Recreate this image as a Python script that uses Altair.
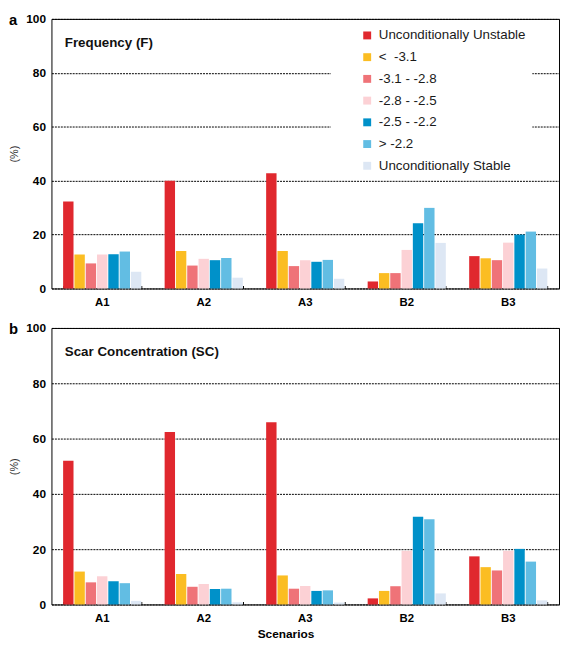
import altair as alt
import pandas as pd

FONT = "Liberation Sans"

scenarios = ["A1", "A2", "A3", "B2", "B3"]
classes = [
    "Unconditionally Unstable",
    "<\u00a0\u00a0-3.1",
    "-3.1 - -2.8",
    "-2.8 - -2.5",
    "-2.5 - -2.2",
    "> -2.2",
    "Unconditionally Stable",
]
colors = ["#e0282e", "#fbbd22", "#ef7378", "#fcd1d5", "#0091c9", "#62bde3", "#dde7f4"]

# Frequency (F), one list per class, values for A1, A2, A3, B2, B3
freq_uu = [32.3, 40.0, 42.7, 2.6, 12.0]
freq_lt31 = [12.6, 13.9, 13.9, 5.7, 11.2]
freq_31_28 = [9.3, 8.5, 8.3, 5.7, 10.5]
freq_28_25 = [12.6, 11.0, 10.5, 14.3, 17.0]
freq_25_22 = [12.7, 10.5, 9.9, 24.2, 20.0]
freq_gt22 = [13.7, 11.3, 10.6, 29.9, 21.1]
freq_us = [6.2, 4.0, 3.6, 16.9, 7.4]

# Scar Concentration (SC)
sc_uu = [52.0, 62.4, 65.9, 2.2, 17.4]
sc_lt31 = [11.9, 11.0, 10.5, 4.9, 13.5]
sc_31_28 = [8.0, 6.4, 5.7, 6.6, 12.3]
sc_28_25 = [10.2, 7.4, 6.7, 19.4, 19.4]
sc_25_22 = [8.4, 5.6, 4.9, 31.7, 20.1]
sc_gt22 = [7.7, 5.7, 5.1, 30.8, 15.5]
sc_us = [1.3, 0.8, 0.7, 4.0, 1.5]

freq_series = [freq_uu, freq_lt31, freq_31_28, freq_28_25, freq_25_22, freq_gt22, freq_us]
sc_series = [sc_uu, sc_lt31, sc_31_28, sc_28_25, sc_25_22, sc_gt22, sc_us]


def make_df(series):
    rows = []
    for cls, vals in zip(classes, series):
        for sc, v in zip(scenarios, vals):
            rows.append({"Scenario": sc, "Class": cls, "Value": v})
    return pd.DataFrame(rows)


W = 514


def panel(series, letter, title, show_legend, show_xtitle, H):
    df = make_df(series)
    base = alt.Chart(df)

    if show_legend:
        legend = alt.Legend(
            title=" ",
            titleOrient="left",
            titleFontSize=1,
            titlePadding=24,
            orient="none",
            legendX=283,
            legendY=4,
            fillColor="white",
            padding=6,
            symbolType="square",
            symbolSize=64,
            symbolStrokeWidth=0,
            labelFont=FONT,
            labelFontSize=13.5,
            labelColor="#1a1a1a",
            labelOffset=5,
            labelLimit=300,
            rowPadding=7,
        )
    else:
        legend = None

    xaxis_kwargs = dict(
        labelAngle=0,
        labelFont=FONT,
        labelFontSize=11.5,
        labelFontWeight="bold",
        labelColor="black",
        labelPadding=8,
        ticks=False,
        domain=False,
        orient="bottom",
    )
    if show_xtitle:
        xaxis_kwargs.update(
            title="Scenarios",
            titleFont=FONT,
            titleFontSize=12,
            titleFontWeight="bold",
            titleColor="black",
            titlePadding=5,
            titleX=237,
        )
    else:
        xaxis_kwargs.update(title=None)

    xscale = alt.Scale(paddingInner=0.23, paddingOuter=0.115)

    bars = base.mark_bar().encode(
        x=alt.X("Scenario:N", sort=scenarios, scale=xscale, axis=alt.Axis(**xaxis_kwargs)),
        xOffset=alt.XOffset("Class:N", sort=classes, scale=alt.Scale(paddingInner=0.08)),
        y=alt.Y(
            "Value:Q",
            scale=alt.Scale(domain=[0, 100], nice=False),
            axis=alt.Axis(
                values=[0, 20, 40, 60, 80, 100],
                grid=True,
                gridColor="black",
                gridDash=[2, 1],
                gridWidth=1,
                ticks=False,
                domain=False,
                labelFont=FONT,
                labelFontSize=12,
                labelFontWeight="bold",
                labelColor="black",
                labelPadding=6,
                title="(%)",
                titleFont=FONT,
                titleFontSize=11,
                titleFontWeight="normal",
                titleColor="#333333",
                titlePadding=6,
            ),
        ),
        color=alt.Color(
            "Class:N",
            sort=classes,
            scale=alt.Scale(domain=classes, range=colors),
            legend=legend,
        ),
    )

    ticks = base.mark_point(opacity=0, size=1).encode(
        x=alt.X(
            "Scenario:N",
            sort=scenarios,
            axis=alt.Axis(
                title=None,
                labels=False,
                domain=False,
                grid=False,
                ticks=True,
                tickBand="extent",
                tickSize=3,
                tickColor="black",
                tickWidth=1,
                offset=-3,
                orient="bottom",
            ),
        ),
    )

    letter_txt = alt.Chart(pd.DataFrame({"t": [letter]})).mark_text(
        align="left", baseline="alphabetic", font=FONT, fontSize=15, fontWeight="bold", color="black"
    ).encode(text="t:N", x=alt.value(-43), y=alt.value(6))

    title_txt = alt.Chart(pd.DataFrame({"t": [title]})).mark_text(
        align="left", baseline="middle", font=FONT, fontSize=13.5, fontWeight="bold", color="#111111"
    ).encode(text="t:N", x=alt.value(13.5), y=alt.value(24.5))

    return (
        alt.layer(bars, ticks, letter_txt, title_txt)
        .resolve_axis(x="independent")
        .properties(width=W, height=H)
    )


top = panel(freq_series, "a", "Frequency (F)", True, False, 273)
bottom = panel(sc_series, "b", "Scar Concentration (SC)", False, True, 280)

chart = (
    alt.vconcat(top, bottom, spacing=13, padding=0, background="white")
    .resolve_scale(color="independent")
    .resolve_legend(color="independent")
    .configure_view(stroke="black", strokeWidth=1)
)

chart.save("out.html", embed_options={"renderer": "svg", "actions": False})
